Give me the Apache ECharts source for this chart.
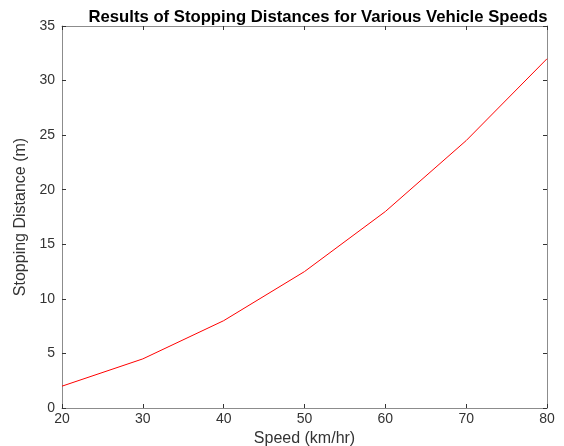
<!DOCTYPE html>
<html><head><meta charset="utf-8">
<script src="https://cdn.jsdelivr.net/npm/echarts@6/dist/echarts.min.js"></script>
<style>html,body{margin:0;padding:0;background:#fff}#c{width:564px;height:446px}</style>
</head><body><div id="c"></div>
<script>
var speeds = [20, 30, 40, 50, 60, 70, 80];
var distances = [2, 4.5, 8, 12.5, 18, 24.5, 32];
var titleText = 'Results of Stopping Distances for Various Vehicle Speeds';
var xName = 'Speed (km/hr)';
var yName = 'Stopping Distance (m)';

var FONT = 'Liberation Sans, Arial, sans-serif';
var chart = echarts.init(document.getElementById('c'));
var axisLine = {show: true, onZero: false, lineStyle: {color: '#8c8c8c', width: 1}};
var tick = {show: true, inside: true, length: 4, lineStyle: {color: '#333'}};
var lab = {color: '#333', fontFamily: FONT, fontSize: 14};
chart.setOption({
  animation: false,
  title: {text: titleText, left: 313, top: 4, textAlign: 'center',
    textStyle: {fontFamily: FONT, fontSize: 16.7, fontWeight: 'bold', color: '#000'}},
  grid: {left: 62, right: 17, top: 26, bottom: 38, containLabel: false, outerBoundsMode: 'none'},
  xAxis: [
    {type: 'value', min: 20, max: 80, interval: 10, position: 'bottom',
     name: xName, nameLocation: 'middle', nameGap: 18,
     nameTextStyle: {color: '#333', fontFamily: FONT, fontSize: 16},
     axisLine: axisLine, axisTick: tick, splitLine: {show: false},
     axisLabel: Object.assign({margin: 4}, lab)},
    {type: 'value', min: 20, max: 80, interval: 10, position: 'top',
     axisLine: axisLine, axisTick: tick, splitLine: {show: false}, axisLabel: {show: false}}
  ],
  yAxis: [
    {type: 'value', min: 0, max: 35, interval: 5, position: 'left',
     name: yName, nameLocation: 'middle', nameGap: 31,
     nameTextStyle: {color: '#333', fontFamily: FONT, fontSize: 16},
     axisLine: axisLine, axisTick: tick, splitLine: {show: false},
     axisLabel: Object.assign({margin: 7}, lab)},
    {type: 'value', min: 0, max: 35, interval: 5, position: 'right',
     axisLine: axisLine, axisTick: tick, splitLine: {show: false}, axisLabel: {show: false}}
  ],
  series: [{
    type: 'line', xAxisIndex: 0, yAxisIndex: 0,
    data: speeds.map(function(s, i){return [s, distances[i]];}),
    showSymbol: false, lineStyle: {color: '#ff0000', width: 1}, itemStyle: {color: '#ff0000'}
  }]
});
</script></body></html>
